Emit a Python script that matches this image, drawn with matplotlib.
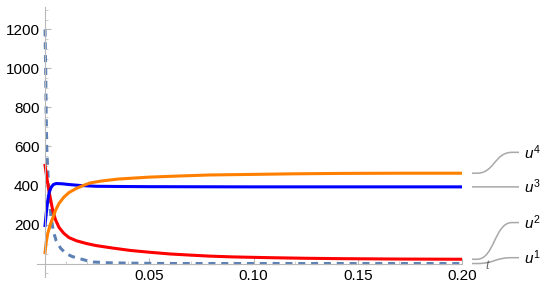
import numpy as np
import matplotlib.pyplot as plt
from matplotlib.path import Path
from matplotlib.patches import PathPatch
from matplotlib.ticker import MultipleLocator

plt.rcParams.update({
    'font.family': 'sans-serif',
    'font.sans-serif': ['Liberation Sans', 'DejaVu Sans'],
    'font.size': 11,
    'mathtext.fontset': 'custom',
    'mathtext.it': 'Liberation Sans:italic',
    'mathtext.rm': 'Liberation Sans',
})

# values (t, u)
t_u1 = [0, 0.0003, 0.0005, 0.0008, 0.0013, 0.002, 0.0029, 0.004, 0.0053, 0.0075, 0.0101,
        0.013, 0.0163, 0.02, 0.023, 0.03, 0.04, 0.06, 0.1, 0.2]
u1 = [1200, 1000, 800, 600, 477, 340, 236, 165, 118, 78, 51,
      36, 26, 15, 8, 4, 2, 0, 0, 0]

t_u2 = [0, 0.001, 0.0021, 0.0037, 0.005, 0.0067, 0.009, 0.0115, 0.015, 0.0197, 0.0245,
        0.032, 0.041, 0.05, 0.060, 0.07, 0.079, 0.09, 0.108, 0.125, 0.142, 0.17, 0.2]
u2 = [503, 430, 359, 272, 225, 185, 155, 133, 117, 103, 92,
      80, 67, 58, 49, 43, 38, 34, 30, 27, 25, 23, 22]

t_u3 = [0, 0.0006, 0.0013, 0.002, 0.0029, 0.004, 0.0053, 0.008, 0.0115, 0.017, 0.0245,
        0.035, 0.05, 0.1, 0.2]
u3 = [195, 260, 323, 365, 390, 405, 410, 409, 405, 400, 396,
      395, 394, 393, 393]

t_u4 = [0, 0.0005, 0.0013, 0.0025, 0.0038, 0.005, 0.0067, 0.009, 0.0115, 0.015, 0.0183,
        0.0216, 0.027, 0.035, 0.05, 0.065, 0.079, 0.1, 0.12, 0.142, 0.17, 0.2]
u4 = [56, 105, 154, 200, 236, 272, 308, 340, 364, 385, 400,
      413, 423, 433, 443, 449, 454, 457, 460, 462, 463, 463]

series = [
    (t_u1, u1, '#5E81B5', '--', 'u^1', 30),
    (t_u2, u2, '#FF0000', '-', 'u^2', 210),
    (t_u3, u3, '#0000FF', '-', 'u^3', 393),
    (t_u4, u4, '#FF8000', '-', 'u^4', 570),
]

x_ticks = [0.05, 0.10, 0.15, 0.20]
y_ticks = [200, 400, 600, 800, 1000, 1200]

fig = plt.figure(figsize=(5.5, 2.87), dpi=100)
ax = fig.add_axes([36.7 / 550, 10 / 287, (462 - 36.7) / 550, 270 / 287])

for t, u, c, ls, lab, ly in series:
    if ls == '--':
        ax.plot(t, u, color=c, lw=2.2, ls=(0, (2.3, 1.9)), solid_capstyle='butt')
    else:
        ax.plot(t, u, color=c, lw=2.2, solid_joinstyle='round')

ax.set_xlim(-0.004, 0.2)
ax.set_ylim(-69, 1315)

for s in ['top', 'right']:
    ax.spines[s].set_visible(False)
ax.spines['left'].set_position(('data', 0))
ax.spines['bottom'].set_position(('data', 0))
for s in ['left', 'bottom']:
    ax.spines[s].set_color('#b8b8b8')
    ax.spines[s].set_linewidth(0.8)

ax.set_xticks(x_ticks)
ax.set_xticklabels(['0.05', '0.10', '0.15', '0.20'])
ax.set_yticks(y_ticks)
ax.xaxis.set_minor_locator(MultipleLocator(0.01))
ax.yaxis.set_minor_locator(MultipleLocator(50))
ax.tick_params(which='major', direction='in', length=4, width=0.8, color='#b8b8b8', pad=4, labelsize=11)
ax.tick_params(which='minor', direction='in', length=2, width=0.6, color='#c8c8c8')
ax.patch.set_visible(False)

# callout lines to labels on the right
x0, x1, x2, x3 = 0.2 + 10 / 2085, 0.2 + 15 / 2085, 0.2 + 50 / 2085, 0.2 + 57 / 2085
for t, u, c, ls, lab, ly in series:
    yv = u[-1]
    xm = (x1 + x2) / 2
    verts = [(x0, yv), (x1, yv), (xm, yv), (xm, ly), (x2, ly), (x3, ly)]
    codes = [Path.MOVETO, Path.LINETO, Path.CURVE4, Path.CURVE4, Path.CURVE4, Path.LINETO]
    ax.add_patch(PathPatch(Path(verts, codes), fill=False, ec='#a8a8a8', lw=1.1, clip_on=False))
    ax.text(x3 + 5 / 2085, ly, f'${lab}$', fontsize=11, ha='left', va='center', clip_on=False)

ax.text(0.2 + 26 / 2085, -8, '$t$', fontsize=9, color='#666666', ha='center', va='center', clip_on=False)

fig.savefig('out.png', dpi=100)
